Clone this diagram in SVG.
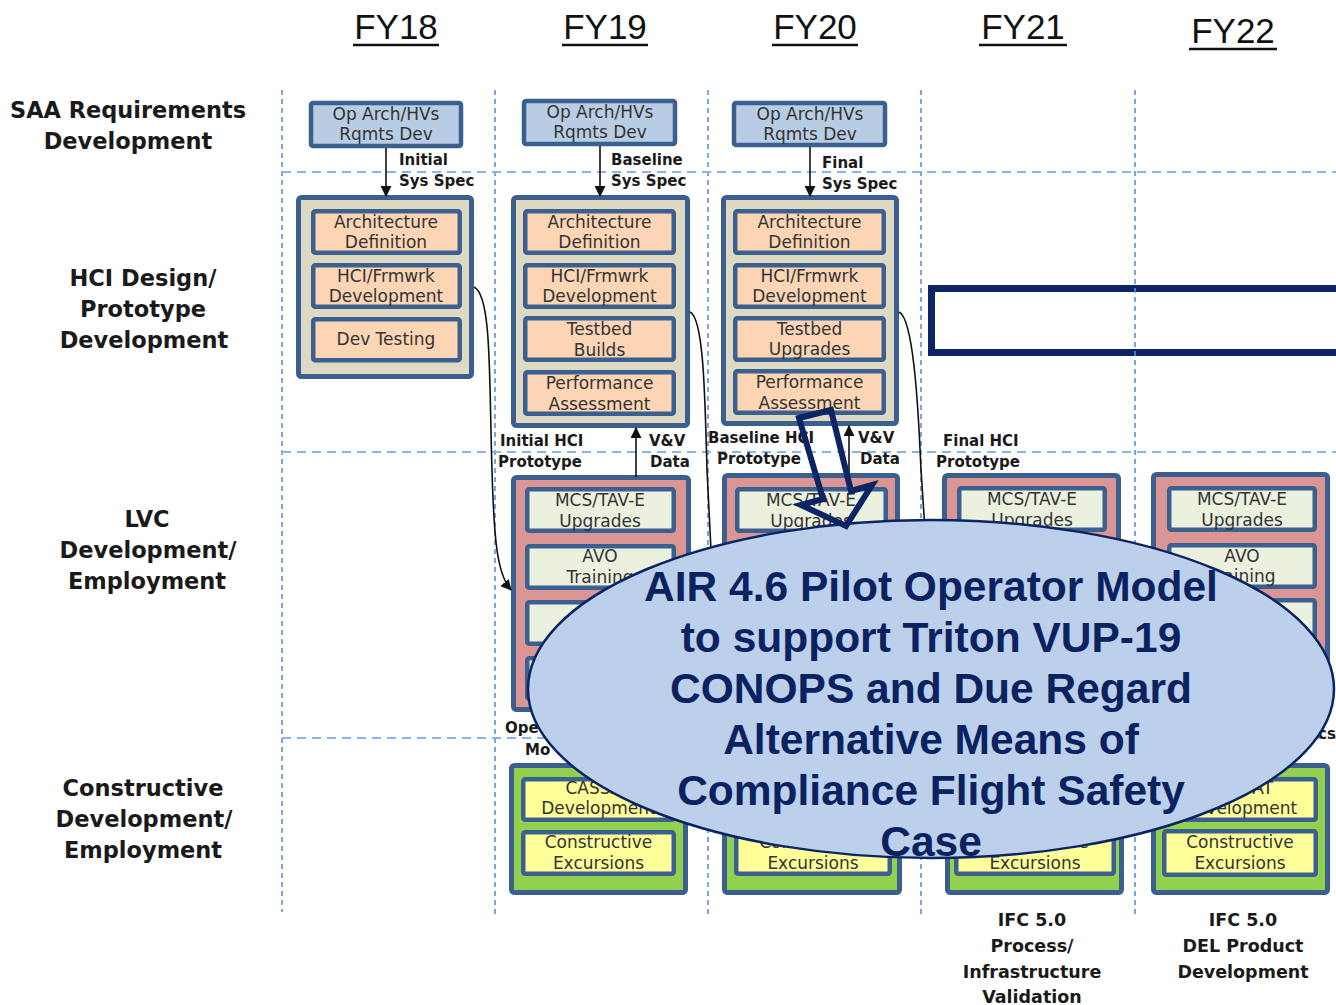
<svg xmlns="http://www.w3.org/2000/svg" width="1336" height="1005" viewBox="0 0 1336 1005">
<defs>
<marker id="ah" viewBox="0 0 10 10" refX="9" refY="5" markerWidth="11" markerHeight="11" markerUnits="userSpaceOnUse" orient="auto"><path d="M0,0 L10,5 L0,10 z" fill="#111"/></marker>
<style>
.hdr{font-family:"Liberation Sans",Arial,sans-serif;font-size:35px;fill:#111;text-anchor:middle}
.ul{stroke:#111;stroke-width:2.6}
.row{font-family:"DejaVu Sans",Verdana,sans-serif;font-weight:bold;font-size:22.5px;fill:#1a1a1a;text-anchor:middle}
.bx{font-family:"DejaVu Sans",Verdana,sans-serif;font-size:17px;fill:#333;text-anchor:middle}
.lbl{font-family:"DejaVu Sans",Verdana,sans-serif;font-weight:bold;font-size:15px;fill:#1a1a1a}
.bot{font-family:"DejaVu Sans",Verdana,sans-serif;font-weight:bold;font-size:17.5px;fill:#1a1a1a;text-anchor:middle}
.vg{stroke:#5b8fd4;stroke-width:1.6;stroke-dasharray:5 4;fill:none}
.hg{stroke:#8db3e2;stroke-width:2;stroke-dasharray:9 6;fill:none}
.saa{fill:#b8cce4;stroke:#3b5f8f;stroke-width:4.5}
.hco{fill:#ddd9c3;stroke:#3b5f8f;stroke-width:5}
.hci{fill:#fcd5b5;stroke:#3b5f8f;stroke-width:4.5}
.lvo{fill:#d99694;stroke:#3b5f8f;stroke-width:5}
.lvi{fill:#ebf1de;stroke:#3b5f8f;stroke-width:4.5}
.cno{fill:#92d050;stroke:#3b5f8f;stroke-width:5}
.cni{fill:#ffff99;stroke:#3b5f8f;stroke-width:4.5}
.con{fill:none;stroke:#111;stroke-width:1.6}
.ell{fill:#bcd0eb;stroke:#0b2463;stroke-width:2.5}
.et{font-family:"Liberation Sans",Arial,sans-serif;font-weight:bold;font-size:42.5px;fill:#0a2260;text-anchor:middle}
.blk{fill:none;stroke:#0b2463;stroke-width:6;stroke-linejoin:miter}
</style>
</defs>
<rect width="1336" height="1005" fill="#fff"/>

<g id="highlight-rect">
<rect x="931.5" y="288.5" width="420" height="64" fill="none" stroke="#0b2463" stroke-width="7"/>
</g>

<g id="grid">
<line class="vg" x1="282" y1="90" x2="282" y2="912"/>
<line class="vg" x1="495" y1="90" x2="495" y2="915"/>
<line class="vg" x1="708" y1="90" x2="708" y2="915"/>
<line class="vg" x1="921" y1="90" x2="921" y2="915"/>
<line class="vg" x1="1135" y1="90" x2="1135" y2="915"/>
<line class="hg" x1="282" y1="172" x2="1336" y2="172"/>
<line class="hg" x1="282" y1="452" x2="1336" y2="452"/>
<line class="hg" x1="282" y1="738" x2="1336" y2="738"/>
</g>

<g id="headers">
<text class="hdr" x="396" y="39">FY18</text><line class="ul" x1="353" y1="45" x2="439" y2="45"/>
<text class="hdr" x="605" y="39">FY19</text><line class="ul" x1="562" y1="45" x2="648" y2="45"/>
<text class="hdr" x="815" y="39">FY20</text><line class="ul" x1="772" y1="45" x2="858" y2="45"/>
<text class="hdr" x="1023" y="39">FY21</text><line class="ul" x1="979" y1="45" x2="1067" y2="45"/>
<text class="hdr" x="1233" y="43">FY22</text><line class="ul" x1="1189" y1="49" x2="1277" y2="49"/>
</g>

<g id="row-labels">
<text class="row" x="128" y="118" textLength="236" lengthAdjust="spacingAndGlyphs">SAA Requirements</text>
<text class="row" x="128" y="149">Development</text>
<text class="row" x="143" y="286">HCI Design/</text>
<text class="row" x="143" y="317">Prototype</text>
<text class="row" x="144" y="348">Development</text>
<text class="row" x="147" y="527">LVC</text>
<text class="row" x="148" y="558">Development/</text>
<text class="row" x="147" y="589">Employment</text>
<text class="row" x="143" y="796">Constructive</text>
<text class="row" x="144" y="827">Development/</text>
<text class="row" x="143" y="858">Employment</text>
</g>

<!-- SAA boxes -->
<g id="saa-fy18"><rect class="saa" x="311" y="103" width="150" height="43" rx="2"/>
<text class="bx" x="386" y="120">Op Arch/HVs</text><text class="bx" x="386" y="140">Rqmts Dev</text></g>
<g id="saa-fy19"><rect class="saa" x="524" y="101" width="151" height="43" rx="2"/>
<text class="bx" x="600" y="118">Op Arch/HVs</text><text class="bx" x="600" y="138">Rqmts Dev</text></g>
<g id="saa-fy20"><rect class="saa" x="734" y="103" width="151" height="42" rx="2"/>
<text class="bx" x="810" y="120">Op Arch/HVs</text><text class="bx" x="810" y="140">Rqmts Dev</text></g>

<!-- HCI boxes -->
<g id="hci-fy18">
<rect class="hco" x="298.5" y="197.5" width="173" height="179" rx="3"/>
<rect class="hci" x="313.25" y="211.25" width="146.5" height="41.5" rx="2"/>
<text class="bx" x="386" y="227.5">Architecture</text><text class="bx" x="386" y="248">Definition</text>
<rect class="hci" x="313.25" y="265.25" width="146.5" height="41.5" rx="2"/>
<text class="bx" x="386" y="281.5">HCI/Frmwrk</text><text class="bx" x="386" y="302">Development</text>
<rect class="hci" x="313.25" y="319.25" width="146.5" height="41" rx="2"/>
<text class="bx" x="386" y="345">Dev Testing</text>
</g>
<g id="hci-fy19">
<rect class="hco" x="513.5" y="197.5" width="174" height="228" rx="3"/>
<rect class="hci" x="525.25" y="211.25" width="148.5" height="41.5" rx="2"/>
<text class="bx" x="599.5" y="227.5">Architecture</text><text class="bx" x="599.5" y="248">Definition</text>
<rect class="hci" x="525.25" y="265.25" width="148.5" height="41.5" rx="2"/>
<text class="bx" x="599.5" y="281.5">HCI/Frmwrk</text><text class="bx" x="599.5" y="302">Development</text>
<rect class="hci" x="525.25" y="318.25" width="148.5" height="41.5" rx="2"/>
<text class="bx" x="599.5" y="335">Testbed</text><text class="bx" x="599.5" y="356">Builds</text>
<rect class="hci" x="525.25" y="372.25" width="148.5" height="41.5" rx="2"/>
<text class="bx" x="599.5" y="389">Performance</text><text class="bx" x="599.5" y="409.5">Assessment</text>
</g>
<g id="hci-fy20">
<rect class="hco" x="723.5" y="197.5" width="173" height="226" rx="3"/>
<rect class="hci" x="735.25" y="211.25" width="148.5" height="41.5" rx="2"/>
<text class="bx" x="809.5" y="227.5">Architecture</text><text class="bx" x="809.5" y="248">Definition</text>
<rect class="hci" x="735.25" y="265.25" width="148.5" height="41.5" rx="2"/>
<text class="bx" x="809.5" y="281.5">HCI/Frmwrk</text><text class="bx" x="809.5" y="302">Development</text>
<rect class="hci" x="735.25" y="318.25" width="148.5" height="41.5" rx="2"/>
<text class="bx" x="809.5" y="334.5">Testbed</text><text class="bx" x="809.5" y="355">Upgrades</text>
<rect class="hci" x="735.25" y="371.25" width="148.5" height="41.5" rx="2"/>
<text class="bx" x="809.5" y="388">Performance</text><text class="bx" x="809.5" y="408.5">Assessment</text>
</g>

<!-- LVC boxes -->
<g id="lvc-fy19">
<rect class="lvo" x="513.5" y="477.5" width="175" height="232" rx="3"/>
<rect class="lvi" x="527.25" y="489.25" width="146.5" height="41.5" rx="2"/>
<text class="bx" x="600" y="506">MCS/TAV-E</text><text class="bx" x="600" y="527">Upgrades</text>
<rect class="lvi" x="527.25" y="546.25" width="146.5" height="41.5" rx="2"/>
<text class="bx" x="600" y="562">AVO</text><text class="bx" x="600" y="583">Training</text>
<rect class="lvi" x="527.25" y="602.25" width="146.5" height="41.5" rx="2"/>
<rect class="lvi" x="527.25" y="658.25" width="146.5" height="40.5" rx="2"/>
</g>
<g id="lvc-fy20">
<rect class="lvo" x="724.5" y="475.5" width="173" height="234" rx="3"/>
<rect class="lvi" x="737.25" y="489.25" width="148.5" height="41.5" rx="2"/>
<text class="bx" x="811" y="506">MCS/TAV-E</text><text class="bx" x="811" y="527">Upgrades</text>
<rect class="lvi" x="737.25" y="546.25" width="148.5" height="41.5" rx="2"/>
<rect class="lvi" x="737.25" y="602.25" width="148.5" height="41.5" rx="2"/>
<rect class="lvi" x="737.25" y="658.25" width="148.5" height="40.5" rx="2"/>
</g>
<g id="lvc-fy21">
<rect class="lvo" x="944.5" y="475.5" width="174" height="234" rx="3"/>
<rect class="lvi" x="959.25" y="488.25" width="145.5" height="41.5" rx="2"/>
<text class="bx" x="1032" y="505">MCS/TAV-E</text><text class="bx" x="1032" y="526">Upgrades</text>
<rect class="lvi" x="959.25" y="546.25" width="145.5" height="41.5" rx="2"/>
<rect class="lvi" x="959.25" y="602.25" width="145.5" height="41.5" rx="2"/>
<rect class="lvi" x="959.25" y="658.25" width="145.5" height="40.5" rx="2"/>
</g>
<g id="lvc-fy22">
<rect class="lvo" x="1153.5" y="474.5" width="174" height="235" rx="3"/>
<rect class="lvi" x="1169.25" y="488.25" width="145.5" height="41.5" rx="2"/>
<text class="bx" x="1242" y="505">MCS/TAV-E</text><text class="bx" x="1242" y="526">Upgrades</text>
<rect class="lvi" x="1169.25" y="545.25" width="145.5" height="41.5" rx="2"/>
<text class="bx" x="1242" y="562">AVO</text><text class="bx" x="1242" y="582">Training</text>
<rect class="lvi" x="1169.25" y="600.25" width="145.5" height="41.5" rx="2"/>
<rect class="lvi" x="1169.25" y="656.25" width="145.5" height="40.5" rx="2"/>
</g>

<!-- Constructive boxes -->
<g id="con-fy19">
<rect class="cno" x="511.5" y="765.5" width="174" height="127" rx="3"/>
<rect class="cni" x="523.25" y="779.25" width="150.5" height="40.5" rx="2"/>
<text class="bx" x="598.5" y="794">CASSAT</text><text class="bx" x="598.5" y="814">Development</text>
<rect class="cni" x="523.25" y="832.25" width="150.5" height="41.5" rx="2"/>
<text class="bx" x="598.5" y="848">Constructive</text><text class="bx" x="598.5" y="869">Excursions</text>
</g>
<g id="con-fy20">
<rect class="cno" x="724.5" y="765.5" width="175" height="127" rx="3"/>
<rect class="cni" x="736.25" y="779.25" width="153.5" height="40.5" rx="2"/>
<rect class="cni" x="736.25" y="832.25" width="153.5" height="41.5" rx="2"/>
<text class="bx" x="813" y="848">Constructive</text><text class="bx" x="813" y="869">Excursions</text>
</g>
<g id="con-fy21">
<rect class="cno" x="947.5" y="765.5" width="174" height="127" rx="3"/>
<rect class="cni" x="956.25" y="779.25" width="157.5" height="40.5" rx="2"/>
<rect class="cni" x="956.25" y="832.25" width="157.5" height="41.5" rx="2"/>
<text class="bx" x="1035" y="848">Constructive</text><text class="bx" x="1035" y="869">Excursions</text>
</g>
<g id="con-fy22">
<rect class="cno" x="1153.5" y="765.5" width="174" height="127" rx="3"/>
<rect class="cni" x="1164.25" y="779.25" width="151.5" height="40.5" rx="2"/>
<text class="bx" x="1240" y="794">CASSAT</text><text class="bx" x="1240" y="814">Development</text>
<rect class="cni" x="1164.25" y="831.25" width="151.5" height="43.5" rx="2"/>
<text class="bx" x="1240" y="848">Constructive</text><text class="bx" x="1240" y="869">Excursions</text>
</g>

<g id="connector-labels">
<text class="lbl" x="399" y="165">Initial</text><text class="lbl" x="399" y="186">Sys Spec</text>
<text class="lbl" x="611" y="165">Baseline</text><text class="lbl" x="611" y="186">Sys Spec</text>
<text class="lbl" x="822" y="168">Final</text><text class="lbl" x="822" y="189">Sys Spec</text>
<text class="lbl" x="500" y="446">Initial HCI</text><text class="lbl" x="498" y="467">Prototype</text>
<text class="lbl" x="649" y="446">V&amp;V</text><text class="lbl" x="650" y="467">Data</text>
<text class="lbl" x="708" y="443">Baseline HCI</text><text class="lbl" x="717" y="464">Prototype</text>
<text class="lbl" x="858" y="443">V&amp;V</text><text class="lbl" x="860" y="464">Data</text>
<text class="lbl" x="943" y="446">Final HCI</text><text class="lbl" x="936" y="467">Prototype</text>
<text class="lbl" x="505" y="733">Ope</text>
<text class="lbl" x="525" y="755">Mo</text>
<text class="lbl" x="1318" y="739">cs</text>
</g>

<g id="connectors">
<line class="con" x1="386" y1="148" x2="386" y2="196" marker-end="url(#ah)"/>
<line class="con" x1="600" y1="146" x2="600" y2="196" marker-end="url(#ah)"/>
<line class="con" x1="810" y1="147" x2="810" y2="196" marker-end="url(#ah)"/>
<line class="con" x1="636" y1="477" x2="636" y2="428" marker-end="url(#ah)"/>
<line class="con" x1="849" y1="475" x2="849" y2="426" marker-end="url(#ah)"/>
<path class="con" d="M474,287 C492,295 489,380 492,470 C494,540 497,574 511,590" marker-end="url(#ah)"/>
<path class="con" d="M690,312 C704,318 705,400 707,470 L712,570"/>
<path class="con" d="M899,312 C913,318 918,400 921,470 L926,545"/>
</g>

<g id="callout">
<ellipse class="ell" cx="931" cy="689" rx="403" ry="169"/>
<text class="et" x="931" y="601">AIR 4.6 Pilot Operator Model</text>
<text class="et" x="931" y="652">to support Triton VUP-19</text>
<text class="et" x="931" y="703">CONOPS and Due Regard</text>
<text class="et" x="931" y="754">Alternative Means of</text>
<text class="et" x="931" y="805">Compliance Flight Safety</text>
<text class="et" x="931" y="856">Case</text>
</g>

<g id="block-arrow">
<polygon class="blk" points="799,418 831,410 851,491 872,485 846,526 801,505 823,499"/>
</g>

<g id="bottom-labels">
<text class="bot" x="1032" y="926">IFC 5.0</text>
<text class="bot" x="1032" y="952">Process/</text>
<text class="bot" x="1032" y="978">Infrastructure</text>
<text class="bot" x="1032" y="1003">Validation</text>
<text class="bot" x="1243" y="926">IFC 5.0</text>
<text class="bot" x="1243" y="952">DEL Product</text>
<text class="bot" x="1243" y="978">Development</text>
</g>
</svg>
